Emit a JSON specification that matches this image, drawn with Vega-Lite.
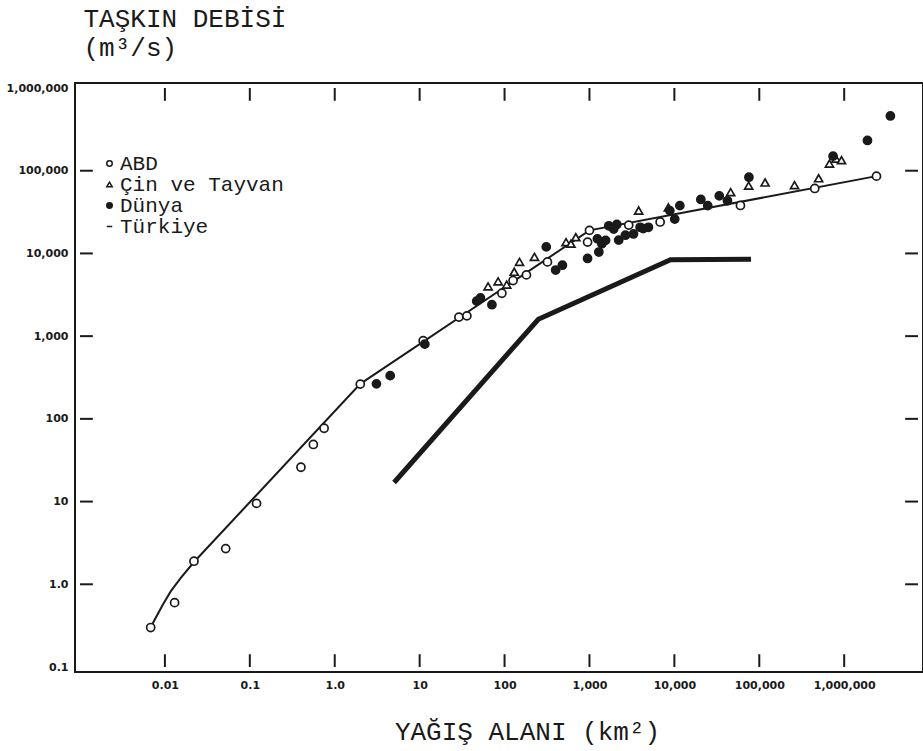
{
  "$schema": "https://vega.github.io/schema/vega-lite/v6.json",
  "width": 848,
  "height": 589,
  "autosize": {"type": "none"},
  "padding": {"left": 75, "top": 83, "right": 0, "bottom": 79},
  "background": "white",
  "datasets": {
    "xticks": [{"v": 0.01}, {"v": 0.1}, {"v": 1}, {"v": 10}, {"v": 100}, {"v": 1000}, {"v": 10000}, {"v": 100000}, {"v": 1000000}],
    "yticks": [{"v": 1}, {"v": 10}, {"v": 100}, {"v": 1000}, {"v": 10000}, {"v": 100000}],
    "curve": [
      {"area": 0.0068, "q": 0.3},
      {"area": 0.00747, "q": 0.362},
      {"area": 0.0093, "q": 0.55},
      {"area": 0.0117, "q": 0.82},
      {"area": 0.0153, "q": 1.19},
      {"area": 0.022, "q": 1.86},
      {"area": 2.0, "q": 265},
      {"area": 1000, "q": 19000},
      {"area": 2400000, "q": 86000}
    ],
    "turkiye": [
      {"area": 5, "q": 17},
      {"area": 250, "q": 1600},
      {"area": 9000, "q": 8400},
      {"area": 80000, "q": 8500}
    ],
    "points": [
      {"series": "ABD", "area": 0.0068, "q": 0.3},
      {"series": "ABD", "area": 0.013, "q": 0.6},
      {"series": "ABD", "area": 0.022, "q": 1.9},
      {"series": "ABD", "area": 0.052, "q": 2.7},
      {"series": "ABD", "area": 0.12, "q": 9.5},
      {"series": "ABD", "area": 0.4, "q": 26},
      {"series": "ABD", "area": 0.56, "q": 49},
      {"series": "ABD", "area": 0.75, "q": 77},
      {"series": "ABD", "area": 2.0, "q": 263},
      {"series": "ABD", "area": 11, "q": 880},
      {"series": "ABD", "area": 29, "q": 1700},
      {"series": "ABD", "area": 36, "q": 1760},
      {"series": "ABD", "area": 93, "q": 3300},
      {"series": "ABD", "area": 126, "q": 4700},
      {"series": "ABD", "area": 181, "q": 5500},
      {"series": "ABD", "area": 320, "q": 7900},
      {"series": "ABD", "area": 950, "q": 13700},
      {"series": "ABD", "area": 1000, "q": 19000},
      {"series": "ABD", "area": 2900, "q": 22000},
      {"series": "ABD", "area": 6800, "q": 24000},
      {"series": "ABD", "area": 60000, "q": 38000},
      {"series": "ABD", "area": 450000, "q": 61000},
      {"series": "ABD", "area": 2400000, "q": 86000},
      {"series": "Çin ve Tayvan", "area": 64, "q": 4000},
      {"series": "Çin ve Tayvan", "area": 84, "q": 4600},
      {"series": "Çin ve Tayvan", "area": 106, "q": 4200},
      {"series": "Çin ve Tayvan", "area": 130, "q": 6000},
      {"series": "Çin ve Tayvan", "area": 150, "q": 7900},
      {"series": "Çin ve Tayvan", "area": 225, "q": 9100},
      {"series": "Çin ve Tayvan", "area": 530, "q": 13700},
      {"series": "Çin ve Tayvan", "area": 605, "q": 13100},
      {"series": "Çin ve Tayvan", "area": 690, "q": 15700},
      {"series": "Çin ve Tayvan", "area": 3800, "q": 33000},
      {"series": "Çin ve Tayvan", "area": 8500, "q": 36000},
      {"series": "Çin ve Tayvan", "area": 46000, "q": 55000},
      {"series": "Çin ve Tayvan", "area": 75000, "q": 66000},
      {"series": "Çin ve Tayvan", "area": 117000, "q": 72000},
      {"series": "Çin ve Tayvan", "area": 260000, "q": 67000},
      {"series": "Çin ve Tayvan", "area": 500000, "q": 81000},
      {"series": "Çin ve Tayvan", "area": 670000, "q": 122000},
      {"series": "Çin ve Tayvan", "area": 800000, "q": 140000},
      {"series": "Çin ve Tayvan", "area": 930000, "q": 134000},
      {"series": "Dünya", "area": 3.1, "q": 265},
      {"series": "Dünya", "area": 4.5, "q": 333},
      {"series": "Dünya", "area": 11.5, "q": 800},
      {"series": "Dünya", "area": 47, "q": 2650},
      {"series": "Dünya", "area": 52, "q": 2900},
      {"series": "Dünya", "area": 71, "q": 2400},
      {"series": "Dünya", "area": 310, "q": 12000},
      {"series": "Dünya", "area": 400, "q": 6300},
      {"series": "Dünya", "area": 480, "q": 7200},
      {"series": "Dünya", "area": 950, "q": 8700},
      {"series": "Dünya", "area": 1240, "q": 15000},
      {"series": "Dünya", "area": 1290, "q": 10400},
      {"series": "Dünya", "area": 1400, "q": 13100},
      {"series": "Dünya", "area": 1550, "q": 14400},
      {"series": "Dünya", "area": 1690, "q": 21600},
      {"series": "Dünya", "area": 1930, "q": 19700},
      {"series": "Dünya", "area": 2100, "q": 22400},
      {"series": "Dünya", "area": 2210, "q": 14500},
      {"series": "Dünya", "area": 2650, "q": 16600},
      {"series": "Dünya", "area": 3300, "q": 17200},
      {"series": "Dünya", "area": 3950, "q": 20700},
      {"series": "Dünya", "area": 4300, "q": 20000},
      {"series": "Dünya", "area": 4950, "q": 20700},
      {"series": "Dünya", "area": 8840, "q": 32900},
      {"series": "Dünya", "area": 10100, "q": 26000},
      {"series": "Dünya", "area": 11600, "q": 37800},
      {"series": "Dünya", "area": 20500, "q": 44900},
      {"series": "Dünya", "area": 24700, "q": 37800},
      {"series": "Dünya", "area": 33800, "q": 49700},
      {"series": "Dünya", "area": 42200, "q": 43300},
      {"series": "Dünya", "area": 75500, "q": 83400},
      {"series": "Dünya", "area": 740000, "q": 150000},
      {"series": "Dünya", "area": 1880000, "q": 232000},
      {"series": "Dünya", "area": 3500000, "q": 459000}
    ]
  },
  "layer": [
    {
      "data": {"name": "curve"},
      "mark": {"type": "line", "color": "#1a1a1a", "strokeWidth": 2},
      "encoding": {
        "x": {
          "field": "area", "type": "quantitative",
          "scale": {"type": "log", "domain": [0.001, 7400000], "nice": false},
          "axis": {
            "orient": "bottom",
            "values": [0.01, 0.1, 1, 10, 100, 1000, 10000, 100000, 1000000],
            "labelExpr": "datum.value == 1 ? '1.0' : format(datum.value, ',')",
            "ticks": false, "domain": false, "labelPadding": 7,
            "title": "YAĞIŞ ALANI (km²)",
            "titleX": 452, "titleY": 67, "titleAlign": "center", "titleBaseline": "alphabetic",
            "titleFont": "Liberation Mono", "titleFontSize": 26, "titleFontWeight": "normal"
          }
        },
        "y": {
          "field": "q", "type": "quantitative",
          "scale": {"type": "log", "domain": [0.1, 1000000], "nice": false},
          "axis": {
            "orient": "left",
            "values": [0.1, 1, 10, 100, 1000, 10000, 100000, 1000000],
            "labelExpr": "datum.value == 1 ? '1.0' : format(datum.value, ',')",
            "ticks": false, "domain": false, "labelPadding": 7,
            "title": ["TAŞKIN DEBİSİ", "(m³/s)"],
            "titleAngle": 0, "titleX": 8, "titleY": -57, "titleAlign": "left", "titleBaseline": "alphabetic",
            "titleFont": "Liberation Mono", "titleFontSize": 26, "titleFontWeight": "normal", "titleLineHeight": 29
          }
        }
      }
    },
    {
      "data": {"name": "xticks"},
      "mark": {"type": "bar", "color": "#1a1a1a", "size": 2, "orient": "vertical"},
      "encoding": {
        "x": {"field": "v", "type": "quantitative", "scale": {"type": "log", "domain": [0.001, 7400000], "nice": false}},
        "y": {"datum": 0.1, "type": "quantitative", "scale": {"type": "log", "domain": [0.1, 1000000], "nice": false}},
        "y2": {"datum": 0.1427}
      }
    },
    {
      "data": {"name": "xticks"},
      "mark": {"type": "bar", "color": "#1a1a1a", "size": 2, "orient": "vertical"},
      "encoding": {
        "x": {"field": "v", "type": "quantitative", "scale": {"type": "log", "domain": [0.001, 7400000], "nice": false}},
        "y": {"datum": 700800, "type": "quantitative", "scale": {"type": "log", "domain": [0.1, 1000000], "nice": false}},
        "y2": {"datum": 1000000}
      }
    },
    {
      "data": {"name": "yticks"},
      "mark": {"type": "bar", "color": "#1a1a1a", "size": 2, "orient": "horizontal"},
      "encoding": {
        "y": {"field": "v", "type": "quantitative", "scale": {"type": "log", "domain": [0.1, 1000000], "nice": false}},
        "x": {"datum": 0.001, "type": "quantitative", "scale": {"type": "log", "domain": [0.001, 7400000], "nice": false}},
        "x2": {"datum": 0.001417}
      }
    },
    {
      "data": {"name": "yticks"},
      "mark": {"type": "bar", "color": "#1a1a1a", "size": 2, "orient": "horizontal"},
      "encoding": {
        "y": {"field": "v", "type": "quantitative", "scale": {"type": "log", "domain": [0.1, 1000000], "nice": false}},
        "x": {"datum": 5220000, "type": "quantitative", "scale": {"type": "log", "domain": [0.001, 7400000], "nice": false}},
        "x2": {"datum": 7400000}
      }
    },
    {
      "data": {"name": "turkiye"},
      "mark": {"type": "line", "color": "#1a1a1a", "strokeWidth": 5, "strokeCap": "butt"},
      "encoding": {
        "x": {"field": "area", "type": "quantitative", "scale": {"type": "log", "domain": [0.001, 7400000], "nice": false}},
        "y": {"field": "q", "type": "quantitative", "scale": {"type": "log", "domain": [0.1, 1000000], "nice": false}}
      }
    },
    {
      "data": {"name": "points"},
      "mark": {"type": "point", "filled": false, "stroke": "#1a1a1a", "strokeWidth": 1.7, "opacity": 1, "size": 65},
      "encoding": {
        "x": {"field": "area", "type": "quantitative", "scale": {"type": "log", "domain": [0.001, 7400000], "nice": false}},
        "y": {"field": "q", "type": "quantitative", "scale": {"type": "log", "domain": [0.1, 1000000], "nice": false}},
        "shape": {
          "field": "series", "type": "nominal",
          "scale": {"domain": ["ABD", "Çin ve Tayvan", "Dünya", "Türkiye"], "range": ["circle", "triangle-up", "circle", "stroke"]},
          "legend": {
            "title": null, "orient": "none", "legendX": 24, "legendY": 70,
            "encode": {"symbols": {"update": {"stroke": {"value": "#1a1a1a"}}}}
          }
        },
        "fill": {
          "field": "series", "type": "nominal",
          "scale": {"domain": ["ABD", "Çin ve Tayvan", "Dünya", "Türkiye"], "range": ["white", "white", "#1a1a1a", "#1a1a1a"]},
          "legend": {
            "title": null, "orient": "none", "legendX": 24, "legendY": 70,
            "encode": {"symbols": {"update": {"stroke": {"value": "#1a1a1a"}}}}
          }
        }
      }
    }
  ],
  "config": {
    "view": {"stroke": "#1a1a1a", "strokeWidth": 2},
    "axis": {
      "grid": false, "labelColor": "#1a1a1a", "titleColor": "#1a1a1a",
      "labelFont": "DejaVu Sans", "labelFontWeight": "bold", "labelFontSize": 11, "labelOverlap": false
    },
    "legend": {
      "padding": 0, "labelLimit": 400,
      "labelFont": "Liberation Mono", "labelFontSize": 21, "labelColor": "#1a1a1a", "labelOffset": 0,
      "rowPadding": -1, "symbolSize": 30, "symbolStrokeWidth": 1.5
    }
  }
}
